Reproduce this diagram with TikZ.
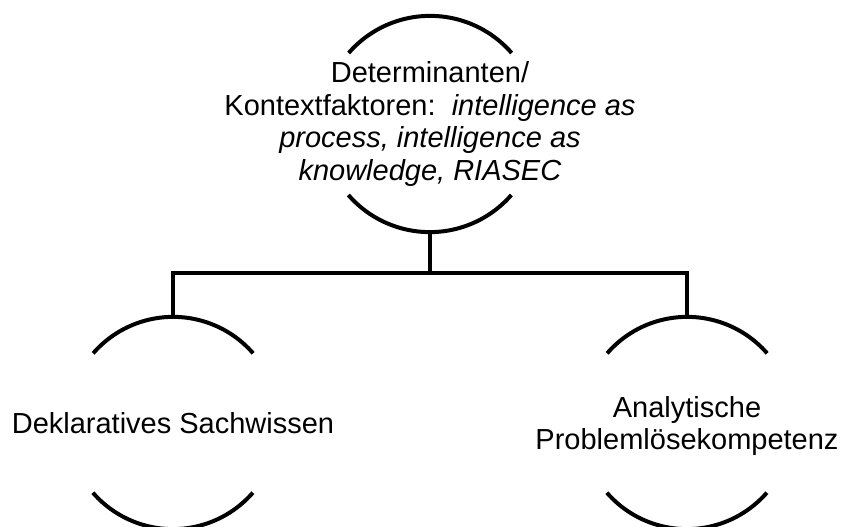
\documentclass[tikz,border=0pt]{standalone}
\usepackage{fontspec}
\setmainfont{Liberation Sans}
\tikzset{
    ring/.style={circle, draw=none, inner sep=0pt, minimum size=#1},
    thick line/.style={line width=4pt},
    label text/.style={align=center, font=\fontsize{29}{32.5}\selectfont}
}
\begin{document}
\begin{tikzpicture}[x=1pt, y=1pt]
                \useasboundingbox (0,0) rectangle (841,527);

                \node[ring=216pt] (detC) at (430,403) {};
                \node[ring=212pt] (dekC) at (173,104) {};
                \node[ring=212pt] (anaC) at (687,104) {};

                \draw[thick line] (detC.41) arc[start angle=41, end angle=139, radius=108];
                \draw[thick line] (detC.221) arc[start angle=221, end angle=319, radius=108];
                \draw[thick line] (dekC.41) arc[start angle=41, end angle=139, radius=106];
                \draw[thick line] (dekC.221) arc[start angle=221, end angle=319, radius=106];
                \draw[thick line] (anaC.41) arc[start angle=41, end angle=139, radius=106];
                \draw[thick line] (anaC.221) arc[start angle=221, end angle=319, radius=106];

                \coordinate (split) at (430,254);
                \draw[thick line] (detC.south) -- (split);
                \draw[thick line] (split) -| (dekC.north);
                \draw[thick line] (split) -| (anaC.north);

                \node[label text] (det) at (detC)
                    {Determinanten/\\Kontextfaktoren:\ \ \textit{intelligence as}\\\textit{process, intelligence as}\\\textit{knowledge, RIASEC}};
                \node[label text] (dek) at (dekC) {Deklaratives Sachwissen};
                \node[label text] (ana) at (687,101) {Analytische\\Problemlösekompetenz};
            \end{tikzpicture}
\end{document}
